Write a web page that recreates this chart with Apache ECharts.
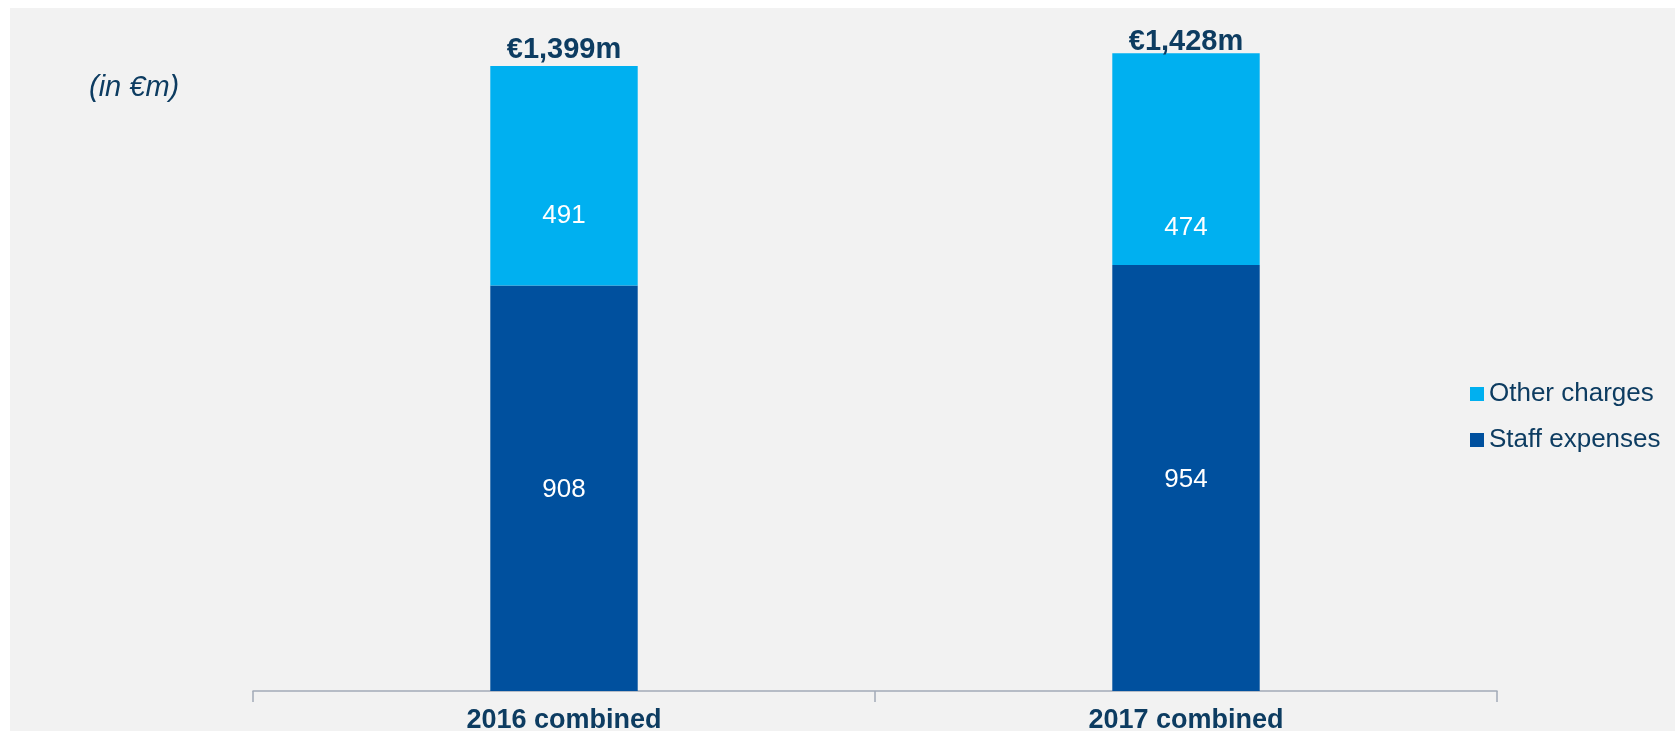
<!DOCTYPE html>
<html lang="en">
<head>
  <meta charset="utf-8">
  <title>Costs 2016 vs 2017</title>
  <script type="text/javascript" src="https://cdn.jsdelivr.net/npm/echarts@6/dist/echarts.min.js"></script>
  <style type="text/css">
    * {
      margin: 0;
      padding: 0;
    }
    html, body, #chart {
      width: 100%;
      height: 100%;
      overflow: hidden;
      background: #fff;
    }
  </style>
</head>
<body>
  <div id="chart"></div>
  <script type="text/javascript">
    // data
    const categories = ['2016 combined', '2017 combined'];
    const staffExpenses = [908, 954];
    const otherCharges = [491, 474];
    const totals = staffExpenses.map((v, i) => v + otherCharges[i]);

    // label nudges (px, downward) to sit where the original puts them
    const otherLabelShift = [40, 69];
    const totalLabelShift = [0, 5];

    const navy = '#0d3c61';
    const font = 'Liberation Sans, Arial, sans-serif';

    var option = {
      backgroundColor: '#fff',
      animation: false,
      graphic: [
        {
          type: 'rect',
          left: 10,
          top: 8,
          z: -10,
          shape: { width: 1675, height: 731 },
          style: { fill: '#f2f2f2' }
        },
        {
          type: 'text',
          left: 89,
          top: 73,
          style: {
            text: '(in €m)',
            fill: navy,
            font: 'italic 29px ' + font
          }
        }
      ],
      legend: {
        data: ['Other charges', 'Staff expenses'],
        orient: 'vertical',
        left: 1465,
        top: 376,
        itemWidth: 14,
        itemHeight: 14,
        itemGap: 20,
        icon: 'rect',
        textStyle: { color: navy, fontSize: 26, fontFamily: font }
      },
      grid: {
        left: 253,
        right: 178,
        top: 21,
        bottom: 40,
        outerBoundsMode: 'none'
      },
      xAxis: {
        type: 'category',
        data: categories,
        axisLine: { lineStyle: { color: '#a3aab8', width: 1.5 } },
        axisTick: { show: true, length: 11, lineStyle: { color: '#a3aab8', width: 1.5 } },
        axisLabel: {
          margin: 16,
          color: navy,
          fontSize: 27,
          fontWeight: 'bold',
          fontFamily: font
        }
      },
      yAxis: {
        type: 'value',
        min: 0,
        max: 1500,
        show: false,
        splitLine: { show: false }
      },
      series: [
        {
          name: 'Staff expenses',
          type: 'bar',
          stack: 'total',
          barWidth: '23.7%',
          itemStyle: { color: '#00509e' },
          label: {
            show: true,
            position: 'inside',
            offset: [0, 2],
            color: '#fff',
            fontSize: 26,
            fontFamily: font
          },
          data: staffExpenses
        },
        {
          name: 'Other charges',
          type: 'bar',
          stack: 'total',
          itemStyle: { color: '#00b0f0' },
          label: {
            show: true,
            position: 'inside',
            color: '#fff',
            fontSize: 26,
            fontFamily: font
          },
          data: otherCharges.map((v, i) => ({
            value: v,
            label: { offset: [0, otherLabelShift[i]] }
          }))
        },
        {
          name: 'Total',
          type: 'scatter',
          symbolSize: 0,
          silent: true,
          itemStyle: { opacity: 1 },
          label: {
            show: true,
            position: 'top',
            distance: 2,
            color: navy,
            fontSize: 29,
            fontWeight: 'bold',
            fontFamily: font,
            formatter: p => '€' + p.value.toLocaleString('en-US') + 'm'
          },
          data: totals.map((v, i) => ({
            value: v,
            label: { offset: [0, totalLabelShift[i]] }
          }))
        }
      ]
    };

    var chart = echarts.init(document.getElementById('chart'));
    chart.setOption(option);
  </script>
</body>
</html>
